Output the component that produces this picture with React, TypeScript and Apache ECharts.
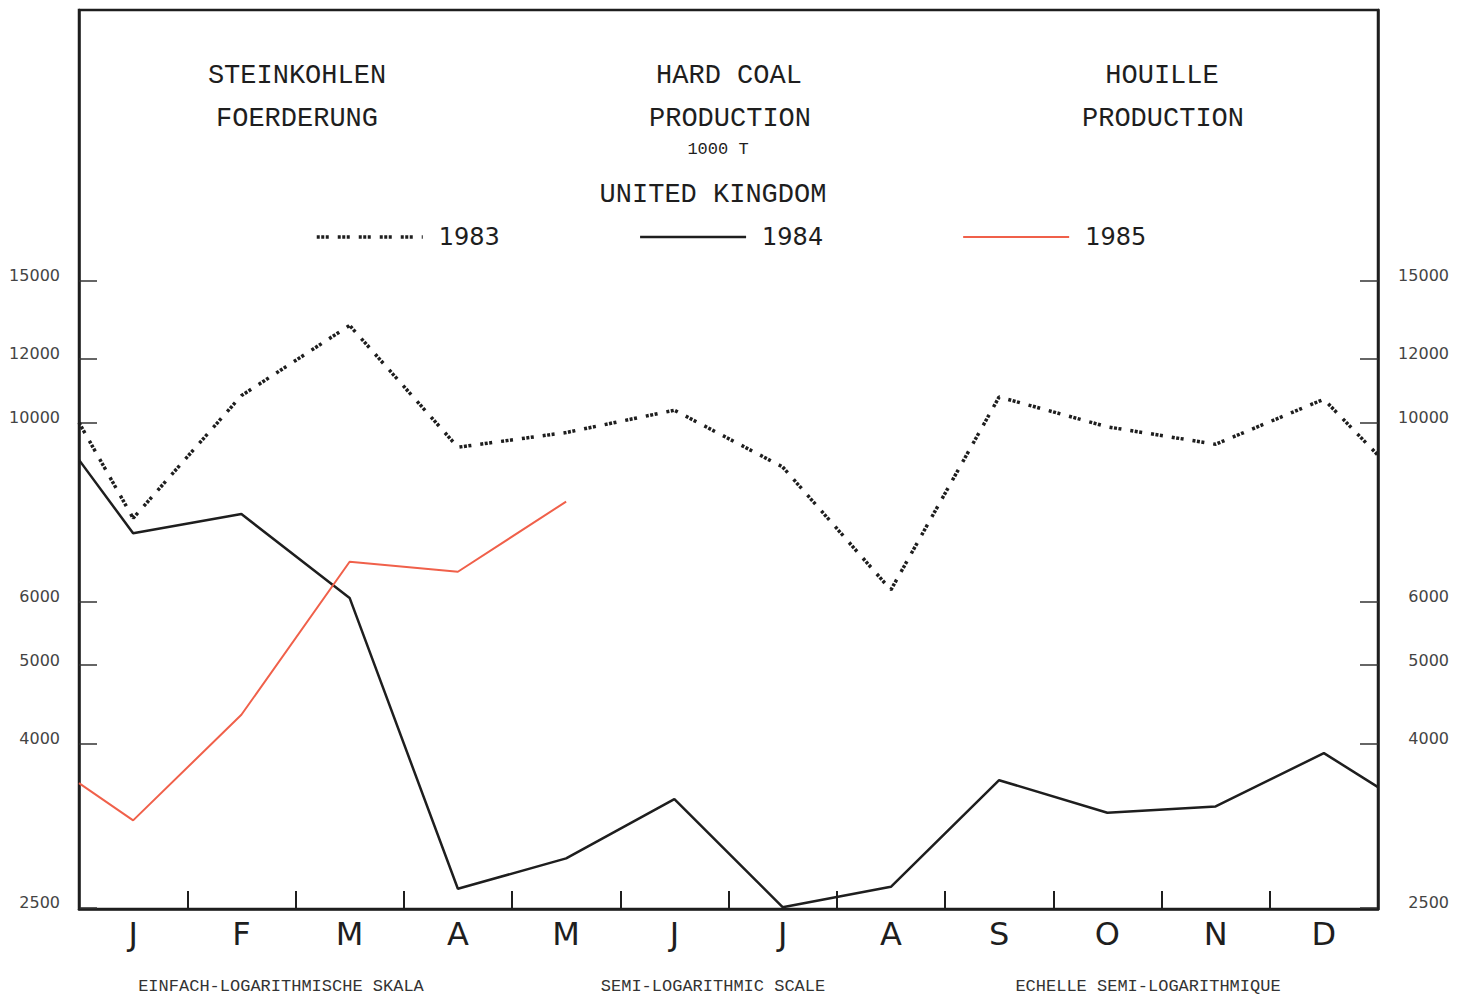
import React, { useEffect, useRef } from "react";
import * as echarts from "echarts";

// ---- data ----
const months = ["J", "F", "M", "A", "M", "J", "J", "A", "S", "O", "N", "D"];
// x position in months: 0 = start of January, 0.5 = middle of January, ..., 12 = end of December
const xPositions = [0, 0.5, 1.5, 2.5, 3.5, 4.5, 5.5, 6.5, 7.5, 8.5, 9.5, 10.5, 11.5, 12];
const prod1983 = [10000, 7610, 10800, 13200, 9320, 9720, 10360, 8810, 6200, 10760, 9880, 9400, 10690, 9110];
const prod1984 = [8990, 7290, 7700, 6060, 2640, 2880, 3410, 2505, 2655, 3600, 3280, 3340, 3890, 3530];
const prod1985 = [3570, 3210, 4340, 6720, 6530, 7980];
const yTicks = [2500, 4000, 5000, 6000, 10000, 12000, 15000];
const seriesNames = ["1983", "1984", "1985"];
const yMin = 2492;
const yMax = 32500;

const titleLeft = ["STEINKOHLEN", "FOERDERUNG"];
const titleCenter = ["HARD COAL", "PRODUCTION"];
const titleRight = ["HOUILLE", "PRODUCTION"];
const unitText = "1000 T";
const countryText = "UNITED KINGDOM";
const scaleTexts = ["EINFACH-LOGARITHMISCHE SKALA", "SEMI-LOGARITHMIC SCALE", "ECHELLE SEMI-LOGARITHMIQUE"];

const L = (v: number) => Math.log10(v);
const toPoints = (vals: number[]) => vals.map((v, i) => [xPositions[i], L(v)]);

const INK = "#1e1e1e";
const RED = "#f0604a";
const MONO = "'Liberation Mono', 'DejaVu Sans Mono', monospace";
const SANS = "'DejaVu Sans', sans-serif";
const DOTS = [3, 1.5, 3, 1.5, 3, 9];

function txt(x: number, y: number, text: string, size: number, font = MONO, color = INK) {
  return {
    type: "text",
    x,
    y,
    silent: true,
    style: {
      text,
      fontSize: size,
      fontFamily: font,
      fill: color,
      align: "center",
      verticalAlign: "middle",
      textAlign: "center",
      textVerticalAlign: "middle",
    },
  };
}

export default function App() {
  const ref = useRef<HTMLDivElement>(null);

  useEffect(() => {
    if (!ref.current) return;
    const chart = echarts.init(ref.current, null, { renderer: "svg" });

    const yAxisBase = (position: "left" | "right", margin: number) => ({
      type: "value",
      min: L(yMin),
      max: L(yMax),
      position,
      axisLine: { show: true, lineStyle: { color: INK, width: 2.5 } },
      axisTick: {
        show: true,
        inside: true,
        length: 18,
        customValues: yTicks.map(L),
        lineStyle: { color: "#333", width: 1.5 },
      },
      axisLabel: {
        show: true,
        customValues: yTicks.map(L),
        formatter: (v: number) => String(Math.round(Math.pow(10, v))),
        margin,
        align: "right",
        verticalAlign: "bottom",
        lineHeight: 10,
        fontFamily: SANS,
        fontSize: 16,
        color: "#444",
      },
      splitLine: { show: false },
    });

    const option: any = {
      animation: false,
      backgroundColor: "#ffffff",
      grid: {
        left: 79,
        right: 91,
        top: 10,
        bottom: 87,
        show: true,
        borderColor: INK,
        borderWidth: 2.5,
        containLabel: false,
        outerBoundsMode: "none",
      },
      legend: {
        show: true,
        left: 310,
        top: 220,
        itemWidth: 106,
        itemHeight: 24,
        itemGap: 139,
        data: seriesNames,
        itemStyle: { opacity: 0 },
        lineStyle: { width: "inherit", type: "inherit" },
        textStyle: { fontFamily: SANS, fontSize: 24, color: INK, padding: [0, 0, 0, 11] },
      },
      xAxis: [
        {
          type: "value",
          min: 0,
          max: 12,
          interval: 1,
          position: "bottom",
          axisLine: { show: true, lineStyle: { color: INK, width: 2.5 } },
          axisTick: { show: true, inside: true, length: 18, lineStyle: { color: INK, width: 2 } },
          axisLabel: { show: false },
          splitLine: { show: false },
        },
        {
          type: "category",
          data: months,
          boundaryGap: true,
          position: "bottom",
          axisLine: { show: false },
          axisTick: { show: false },
          axisLabel: { show: true, margin: 9, fontFamily: SANS, fontSize: 32, color: INK, interval: 0 },
          splitLine: { show: false },
        },
      ],
      yAxis: [yAxisBase("left", 19), { ...yAxisBase("right", 71) }],
      series: [
        {
          type: "line",
          name: seriesNames[0],
          data: toPoints(prod1983),
          xAxisIndex: 0,
          yAxisIndex: 0,
          symbol: "none",
          showSymbol: false,
          lineStyle: { color: INK, width: 3.5, type: DOTS },
          itemStyle: { color: INK },
        },
        {
          type: "line",
          name: seriesNames[1],
          data: toPoints(prod1984),
          xAxisIndex: 0,
          yAxisIndex: 0,
          symbol: "none",
          showSymbol: false,
          lineStyle: { color: INK, width: 2.5 },
          itemStyle: { color: INK },
        },
        {
          type: "line",
          name: seriesNames[2],
          data: toPoints(prod1985),
          xAxisIndex: 0,
          yAxisIndex: 0,
          symbol: "none",
          showSymbol: false,
          lineStyle: { color: RED, width: 2 },
          itemStyle: { color: RED },
        },
      ],
      graphic: [
        txt(297, 76, titleLeft[0], 27),
        txt(297, 119, titleLeft[1], 27),
        txt(729, 76, titleCenter[0], 27),
        txt(730, 119, titleCenter[1], 27),
        txt(718, 149, unitText, 17),
        txt(713, 195, countryText, 27),
        txt(1162, 76, titleRight[0], 27),
        txt(1163, 119, titleRight[1], 27),
        txt(281, 986, scaleTexts[0], 17, MONO, "#333"),
        txt(713, 986, scaleTexts[1], 17, MONO, "#333"),
        txt(1148, 986, scaleTexts[2], 17, MONO, "#333"),
      ],
    };

    chart.setOption(option);
    return () => chart.dispose();
  }, []);

  return (
    <div
      ref={ref}
      style={{ position: "fixed", left: 0, top: 0, width: 1469, height: 996, background: "#fff" }}
    />
  );
}
